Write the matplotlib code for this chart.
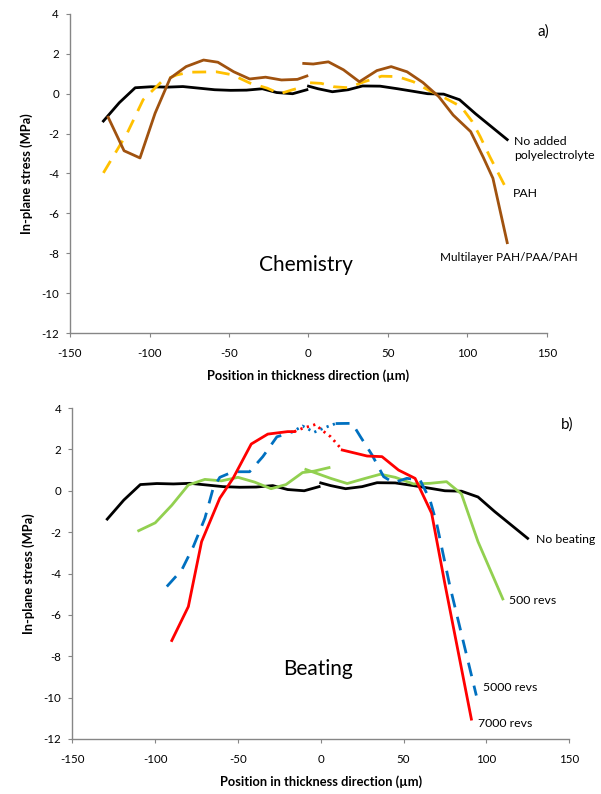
import matplotlib
matplotlib.use('Agg')
import matplotlib.pyplot as plt

plt.rcParams['font.family'] = ['Lato', 'DejaVu Sans']
plt.rcParams['axes.unicode_minus'] = False

# --- a) chemistry ---
ref_x_left = [-129, -119, -109, -99, -89, -79, -69, -59, -49, -39, -29, -20, -10, -1]
ref_y_left = [-1.37, -0.45, 0.3, 0.35, 0.33, 0.36, 0.28, 0.2, 0.17, 0.18, 0.25, 0.06, 0.0, 0.2]
ref_x_right = [0, 6, 15, 25, 34, 45, 56, 66, 75, 85, 95, 105, 115, 125]
ref_y_right = [0.38, 0.25, 0.1, 0.2, 0.39, 0.38, 0.25, 0.12, 0.0, -0.02, -0.3, -1.0, -1.65, -2.3]

pah_x_left = [-129, -114, -104, -92, -83, -75, -58, -48, -37, -26, -18, -10, -3]
pah_y_left = [-3.97, -1.97, -0.3, 0.64, 0.94, 1.08, 1.1, 0.95, 0.54, 0.28, 0.0, 0.2, 0.35]
pah_x_right = [1, 8, 16, 25, 35, 46, 56, 66, 75, 86, 96, 103, 108, 114, 124]
pah_y_right = [0.55, 0.52, 0.35, 0.3, 0.6, 0.88, 0.86, 0.6, 0.2, -0.22, -0.65, -1.4, -2.15, -3.15, -4.7]

multi_x_left = [-126, -116, -106, -96.5, -87, -77, -66, -57, -47, -37, -27, -17, -7, -1]
multi_y_left = [-1.18, -2.86, -3.22, -0.98, 0.78, 1.36, 1.69, 1.58, 1.1, 0.74, 0.83, 0.69, 0.72, 0.89]
multi_x_right = [-3, 3, 12.5, 22, 32, 43, 52, 62, 72, 82, 91, 102, 110, 116, 125]
multi_y_right = [1.52, 1.49, 1.6, 1.2, 0.6, 1.16, 1.36, 1.1, 0.56, -0.15, -1.07, -1.9, -3.2, -4.24, -7.47]

# --- b) beating ---
r500_x_left = [-110, -100, -90, -80, -70, -60, -50, -40, -30, -21, -11, -4, 5]
r500_y_left = [-1.93, -1.55, -0.7, 0.28, 0.55, 0.48, 0.65, 0.42, 0.1, 0.3, 0.88, 0.95, 1.12]
r500_x_right = [-9, 6, 16, 26, 36, 45, 56, 66, 76, 85, 95, 110]
r500_y_right = [1.03, 0.6, 0.35, 0.58, 0.8, 0.65, 0.33, 0.36, 0.44, -0.15, -2.46, -5.23]

r5000_x_left = [-93, -84, -77, -70, -65, -61, -53, -43, -35, -26.5, -18]
r5000_y_left = [-4.63, -3.83, -2.7, -1.33, 0.12, 0.65, 0.92, 0.92, 1.65, 2.61, 2.81]
r5000_x_gap = [-18, -11, -4, 4, 9]
r5000_y_gap = [2.81, 3.13, 2.83, 3.1, 3.25]
r5000_x_right = [9, 19, 24, 31, 38, 44, 52, 60, 66, 70, 78, 94]
r5000_y_right = [3.25, 3.26, 2.61, 1.73, 0.68, 0.39, 0.6, 0.52, -0.44, -1.57, -4.6, -9.9]

r7000_x_left = [-90, -80, -72, -61, -53, -42, -32, -20, -16]
r7000_y_left = [-7.24, -5.6, -2.46, -0.36, 0.6, 2.26, 2.74, 2.86, 2.86]
r7000_x_gap = [-16, -11, -3, 0, 6, 13]
r7000_y_gap = [2.86, 3.02, 3.21, 2.97, 2.61, 1.97]
r7000_x_right = [13, 28, 37, 47, 57, 67, 75, 91]
r7000_y_right = [1.97, 1.68, 1.65, 1.0, 0.6, -1.09, -4.5, -11.04]

BLACK = '#000000'
ORANGE = '#FFC000'
BROWN = '#A0520F'
GREEN = '#92D050'
BLUE = '#0070C0'
RED = '#FF0000'
LW = 2.0


def style_axes(ax):
    ax.set_xlim(-150, 150)
    ax.set_ylim(-12, 4)
    ax.set_xticks(range(-150, 151, 50))
    ax.set_yticks(range(-12, 5, 2))
    for s in ['top', 'right']:
        ax.spines[s].set_visible(False)
    for s in ['left', 'bottom']:
        ax.spines[s].set_color('#868686')
        ax.spines[s].set_linewidth(1.0)
    ax.tick_params(direction='out', length=3, color='#868686', labelsize=8.3)
    ax.tick_params(axis='x', pad=8)
    ax.tick_params(axis='y', pad=5)
    ax.set_ylabel('In-plane stress (MPa)', fontsize=9.3, fontweight='bold', labelpad=6)
    ax.set_xlabel('Position in thickness direction (\u00b5m)', fontsize=9.3,
                  fontweight='bold', labelpad=7)


fig = plt.figure(figsize=(6.01, 7.94), dpi=100)

# top panel
ax1 = fig.add_axes([0.1165, 0.5806, 0.7936, 0.4018])
ax1.plot(ref_x_left, ref_y_left, color=BLACK, lw=LW)
ax1.plot(ref_x_right, ref_y_right, color=BLACK, lw=LW)
ax1.plot(pah_x_left, pah_y_left, color=ORANGE, lw=LW, dashes=(5, 3.5))
ax1.plot(pah_x_right, pah_y_right, color=ORANGE, lw=LW, dashes=(5, 3.5))
ax1.plot(multi_x_left, multi_y_left, color=BROWN, lw=LW)
ax1.plot(multi_x_right, multi_y_right, color=BROWN, lw=LW)
style_axes(ax1)
ax1.text(129.5, -2.75, 'No added\npolyelectrolyte', fontsize=8.8, va='center', ha='left',
         linespacing=1.3)
ax1.text(128.5, -4.98, 'PAH', fontsize=8.8, va='center', ha='left')
ax1.text(126, -8.2, 'Multilayer PAH/PAA/PAH', fontsize=8.5, va='center', ha='center')
ax1.text(-1.5, -8.6, 'Chemistry', fontsize=15, va='center', ha='center')
ax1.text(148, 3.1, 'a)', fontsize=11, va='center', ha='center')

# bottom panel
ax2 = fig.add_axes([0.1206, 0.0693, 0.8262, 0.4168])
ax2.plot(ref_x_left, ref_y_left, color=BLACK, lw=LW)
ax2.plot(ref_x_right, ref_y_right, color=BLACK, lw=LW)
ax2.plot(r500_x_left, r500_y_left, color=GREEN, lw=LW)
ax2.plot(r500_x_right, r500_y_right, color=GREEN, lw=LW)
ax2.plot(r5000_x_left, r5000_y_left, color=BLUE, lw=LW, dashes=(5, 3.5))
ax2.plot(r5000_x_gap, r5000_y_gap, color=BLUE, lw=LW, dashes=(0.8, 1.6))
ax2.plot(r5000_x_right, r5000_y_right, color=BLUE, lw=LW, dashes=(5, 3.5))
ax2.plot(r7000_x_left, r7000_y_left, color=RED, lw=LW)
ax2.plot(r7000_x_gap, r7000_y_gap, color=RED, lw=LW, dashes=(0.8, 1.6))
ax2.plot(r7000_x_right, r7000_y_right, color=RED, lw=LW)
style_axes(ax2)
ax2.text(130, -2.38, 'No beating', fontsize=8.8, va='center', ha='left')
ax2.text(113.5, -5.31, '500 revs', fontsize=8.8, va='center', ha='left')
ax2.text(98, -9.49, '5000 revs', fontsize=8.8, va='center', ha='left')
ax2.text(95, -11.23, '7000 revs', fontsize=8.8, va='center', ha='left')
ax2.text(-1.5, -8.6, 'Beating', fontsize=15, va='center', ha='center')
ax2.text(149, 3.18, 'b)', fontsize=11, va='center', ha='center')

fig.savefig('out.png', dpi=100)
